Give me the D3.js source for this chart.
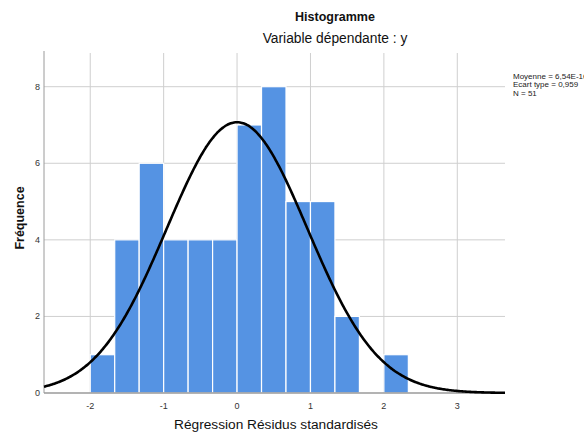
<!DOCTYPE html>
<html>
<head>
<meta charset="utf-8">
<script src="https://cdn.jsdelivr.net/npm/d3@7"></script>
<style>
  html, body { margin: 0; padding: 0; background: #fff; }
  svg { display: block; }
  text { font-family: "Liberation Sans", Arial, sans-serif; }
</style>
</head>
<body>
<svg id="chart" width="584" height="441"></svg>
<script>
// ---- data ----
const binStarts = [-2, -5/3, -4/3, -1, -2/3, -1/3, 0, 1/3, 2/3, 1, 4/3, 5/3, 2];
const counts    = [1, 4, 6, 4, 4, 4, 7, 8, 5, 5, 2, 0, 1];
const binWidth = 1/3;
const xTicks = [-2, -1, 0, 1, 2, 3];
const yTicks = [0, 2, 4, 6, 8];
const statMean = 6.54e-16;
const statSd = 0.959;
const statN = 51;
const legendLines = ["Moyenne = 6,54E-16", "Ecart type = 0,959", "N = 51"];
const titleText = "Histogramme";
const subtitleText = "Variable dépendante : y";
const xLabel = "Régression Résidus standardisés";
const yLabel = "Fréquence";

// ---- layout ----
const svg = d3.select("#chart");
const plot = { left: 44, right: 505, top: 53, bottom: 393 };
const x = d3.scaleLinear().domain([-2.63, 3.65]).range([plot.left, plot.right]);
const y = d3.scaleLinear().domain([0, 8.88]).range([plot.bottom, plot.top]);

// gridlines
const g = svg.append("g");
g.selectAll("line.vg").data(xTicks).enter().append("line")
  .attr("x1", d => x(d)).attr("x2", d => x(d))
  .attr("y1", plot.top).attr("y2", plot.bottom)
  .attr("stroke", "#cfcfcf").attr("stroke-width", 1);
g.selectAll("line.hg").data(yTicks.filter(d => d > 0)).enter().append("line")
  .attr("x1", plot.left).attr("x2", plot.right)
  .attr("y1", d => y(d)).attr("y2", d => y(d))
  .attr("stroke", "#cfcfcf").attr("stroke-width", 1);

// bars
svg.append("g").selectAll("rect").data(binStarts.map((b, i) => ({b, c: counts[i]})).filter(d => d.c > 0))
  .enter().append("rect")
  .attr("x", d => x(d.b))
  .attr("width", d => x(d.b + binWidth) - x(d.b))
  .attr("y", d => y(d.c))
  .attr("height", d => y(0) - y(d.c))
  .attr("fill", "#5593e3")
  .attr("stroke", "#ffffff")
  .attr("stroke-width", 1.2);

// axes lines
svg.append("line").attr("x1", plot.left).attr("x2", plot.left)
  .attr("y1", plot.top - 2).attr("y2", plot.bottom)
  .attr("stroke", "#9a9a9a").attr("stroke-width", 1);
svg.append("line").attr("x1", plot.left).attr("x2", plot.right)
  .attr("y1", plot.bottom).attr("y2", plot.bottom)
  .attr("stroke", "#9a9a9a").attr("stroke-width", 1.5);

// normal curve
const scaleFactor = statN * binWidth;
const curvePts = d3.range(0, 401).map(i => {
  const xv = x.domain()[0] + (x.domain()[1] - x.domain()[0]) * i / 400;
  const z = (xv - statMean) / statSd;
  return [xv, scaleFactor * Math.exp(-0.5 * z * z) / (statSd * Math.sqrt(2 * Math.PI))];
});
svg.append("path").datum(curvePts)
  .attr("d", d3.line().x(d => x(d[0])).y(d => y(d[1])).curve(d3.curveBasis))
  .attr("fill", "none").attr("stroke", "#000").attr("stroke-width", 2.6);

// tick labels
svg.append("g").selectAll("text").data(xTicks).enter().append("text")
  .attr("x", d => x(d)).attr("y", 409)
  .attr("text-anchor", "middle").attr("font-size", 9).attr("fill", "#333")
  .text(d => d);
svg.append("g").selectAll("text").data(yTicks).enter().append("text")
  .attr("x", 40).attr("y", d => y(d) + 3)
  .attr("text-anchor", "end").attr("font-size", 9).attr("fill", "#333")
  .text(d => d);

// titles
svg.append("text").attr("x", 335).attr("y", 21).attr("text-anchor", "middle")
  .attr("font-size", 12.5).attr("font-weight", "bold").attr("fill", "#111").text(titleText);
svg.append("text").attr("x", 335).attr("y", 43).attr("text-anchor", "middle")
  .attr("font-size", 13.8).attr("fill", "#111").text(subtitleText);

// axis labels
svg.append("text").attr("x", 276).attr("y", 429).attr("text-anchor", "middle")
  .attr("font-size", 13.7).attr("fill", "#111").text(xLabel);
svg.append("text").attr("transform", "translate(24,218) rotate(-90)")
  .attr("text-anchor", "middle").attr("font-size", 12.5).attr("font-weight", "bold")
  .attr("fill", "#111").text(yLabel);

// legend stats
svg.append("g").selectAll("text").data(legendLines).enter().append("text")
  .attr("x", 513).attr("y", (d, i) => 78.5 + i * 8.5)
  .attr("font-size", 8).attr("fill", "#222")
  .text(d => d);
</script>
</body>
</html>
